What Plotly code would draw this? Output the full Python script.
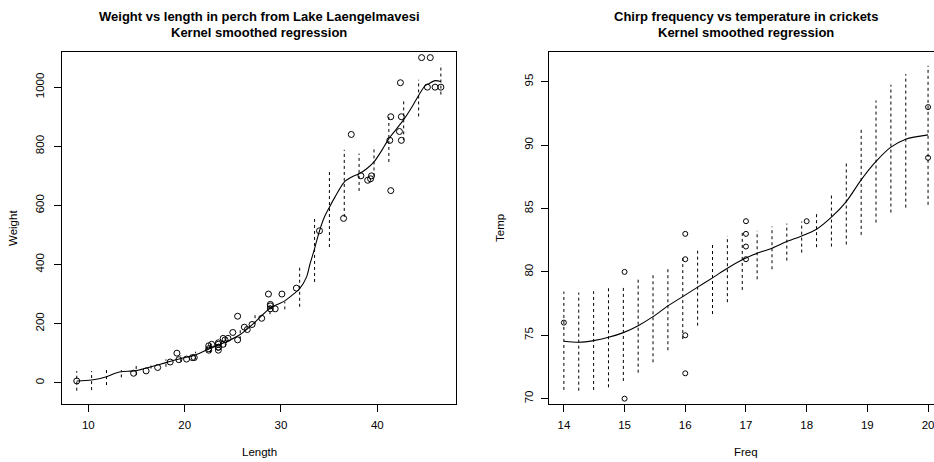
import plotly.graph_objects as go

W, H = 934, 462
FONT = 'Liberation Sans, Arial, sans-serif'

# ─── Perch data (Lake Laengelmavesi) ─────────────────────────────────────────
perch_length = [8.8, 14.7, 16.0, 17.2, 18.5, 19.2, 19.4, 20.2, 20.8, 21.0,
                22.5, 22.5, 22.5, 22.8, 23.5, 23.5, 23.5, 23.5, 23.5, 24.0,
                24.0, 24.2, 24.5, 25.0, 25.5, 25.5, 26.2, 26.5, 27.0, 28.0,
                28.7, 28.9, 28.9, 28.9, 29.4, 30.1, 31.6, 34.0, 36.5, 37.3,
                39.0, 38.3, 39.4, 39.3, 41.4, 41.4, 41.3, 42.3, 42.5, 42.4,
                42.5, 44.6, 45.2, 45.5, 46.0, 46.6]
perch_weight = [5.9, 32, 40, 51.5, 70, 100, 78, 80, 85, 85,
                110, 115, 125, 130, 120, 120, 130, 135, 110, 130,
                150, 145, 150, 170, 225, 145, 188, 180, 197, 218,
                300, 260, 265, 250, 250, 300, 320, 514, 556, 840,
                685, 700, 700, 690, 900, 650, 820, 850, 900, 1015,
                820, 1100, 1000, 1100, 1000, 1000]

perch_fit_x = [8.8, 10.34, 11.89, 12.8, 13.43, 14.97, 16.51, 18.06, 19.6, 21.14,
               22.69, 24.23, 25.77, 27.31, 28.86, 30.4, 31.3, 31.94, 32.66, 33.0,
               33.49, 34.0, 34.5, 35.03, 35.6, 36.57, 37.35, 38.11, 38.9, 39.66,
               40.47, 41.2, 42.0, 42.74, 43.58, 44.29, 44.97, 45.3, 46.0, 46.6]
perch_fit_y = [6, 9, 20, 32, 37, 41, 54, 68, 82, 94,
               117, 137, 163, 205, 252, 277, 300, 318, 358, 400,
               454, 514, 560, 594, 628, 679, 696, 707, 724, 747,
               786, 826, 859, 890, 932, 972, 1005, 1011, 1022, 1019]

perch_band_x = [8.8, 10.34, 11.89, 13.43, 14.97, 16.51, 18.06, 19.6, 21.14, 22.69,
                24.23, 25.77, 27.31, 28.86, 30.4, 31.94, 33.49, 35.03, 36.57, 38.11,
                39.66, 41.2, 42.74, 44.29, 46.6]
perch_band_lo = [-27, -25, -8, 18, 26, 48, 54, 71, 79, 101,
                 122, 147, 198, 232, 248, 257, 341, 459, 561, 649,
                 698, 747, 820, 901, 975]
perch_band_hi = [39.5, 39.5, 43, 43, 63, 63, 79, 93, 105, 133,
                 150, 180, 236, 262, 274, 394, 561, 721, 788, 775,
                 800, 904, 955, 1025, 1077]

# ─── Cricket data ────────────────────────────────────────────────────────────
cricket_freq = [14, 15, 15, 16, 16, 16, 16, 17, 17, 17, 17, 18, 20, 20]
cricket_temp = [76, 80, 70, 83, 81, 75, 72, 84, 83, 82, 81, 84, 93, 89]

cricket_grid = [14.0, 14.245, 14.49, 14.735, 14.98, 15.224, 15.469, 15.714, 15.959,
                16.204, 16.449, 16.694, 16.939, 17.184, 17.429, 17.673, 17.918,
                18.163, 18.408, 18.653, 18.898, 19.143, 19.388, 19.633, 20.0]
cricket_fit = [74.53, 74.45, 74.58, 74.84, 75.21, 75.76, 76.47, 77.32, 78.05,
               78.8, 79.53, 80.29, 80.95, 81.48, 81.87, 82.39, 82.84,
               83.37, 84.32, 85.55, 87.26, 88.71, 89.84, 90.47, 90.81]
cricket_lo = [70.69, 70.63, 70.69, 70.9, 71.4, 72.05, 72.87, 73.82, 74.7,
              75.76, 76.68, 77.61, 78.58, 79.42, 80.21, 80.89, 81.52,
              81.95, 82.0, 82.16, 82.92, 83.89, 84.68, 85.07, 85.29]
cricket_hi = [78.45, 78.37, 78.47, 78.71, 78.79, 79.45, 79.82, 80.32, 81.1,
              81.8, 82.31, 82.84, 83.15, 83.24, 83.58, 83.81, 83.97,
              84.71, 86.21, 88.68, 91.21, 93.52, 94.76, 95.6, 96.26]


def band_segments(xs, lo, hi):
    bx, by = [], []
    for x, a, b in zip(xs, lo, hi):
        bx += [x, x, None]
        by += [a, b, None]
    return bx, by


def px(x):
    return x / W


def py(y):
    return 1 - y / H


fig = go.Figure()

# left panel
bx, by = band_segments(perch_band_x, perch_band_lo, perch_band_hi)
fig.add_trace(go.Scatter(x=bx, y=by, mode='lines', xaxis='x', yaxis='y',
                         line=dict(color='black', width=1, dash='3px,3px'),
                         hoverinfo='skip'))
fig.add_trace(go.Scatter(x=perch_fit_x, y=perch_fit_y, mode='lines', xaxis='x', yaxis='y',
                         line=dict(color='black', width=1.1, shape='spline', smoothing=0.8)))
fig.add_trace(go.Scatter(x=perch_length, y=perch_weight, mode='markers', xaxis='x', yaxis='y',
                         marker=dict(symbol='circle-open', size=6, color='black',
                                     line=dict(width=1, color='black'))))

# right panel
bx, by = band_segments(cricket_grid, cricket_lo, cricket_hi)
fig.add_trace(go.Scatter(x=bx, y=by, mode='lines', xaxis='x2', yaxis='y2',
                         line=dict(color='black', width=1, dash='3px,3px'),
                         hoverinfo='skip'))
fig.add_trace(go.Scatter(x=cricket_grid, y=cricket_fit, mode='lines', xaxis='x2', yaxis='y2',
                         line=dict(color='black', width=1.1, shape='spline', smoothing=0.8)))
fig.add_trace(go.Scatter(x=cricket_freq, y=cricket_temp, mode='markers', xaxis='x2', yaxis='y2',
                         marker=dict(symbol='circle-open', size=5, color='black',
                                     line=dict(width=1, color='black'))))

ydom = [py(404), py(51.7)]
axis_common = dict(showgrid=False, zeroline=False, showline=True, linecolor='black',
                   linewidth=1, ticks='outside', ticklen=7, tickcolor='black',
                   ticklabeloverflow='allow',
                   tickfont=dict(family=FONT, size=11.5, color='black'))

fig.update_layout(
    width=W, height=H,
    margin=dict(l=0, r=0, t=0, b=0),
    paper_bgcolor='white', plot_bgcolor='white',
    showlegend=False,
    font=dict(family=FONT, color='black'),
    xaxis=dict(domain=[px(62.3), px(455.7)], range=[7.30, 48.14],
               tickvals=[10, 20, 30, 40], mirror=True, anchor='y',
               ticklabelstandoff=3, **axis_common),
    yaxis=dict(domain=ydom, range=[-72, 1120], tickvals=[0, 200, 400, 600, 800, 1000],
               tickangle=-90, mirror=True, anchor='x', ticklabelstandoff=6, **axis_common),
    xaxis2=dict(domain=[px(549.3), 1.0], range=[13.76, 20.098],
                tickvals=[14, 15, 16, 17, 18, 19, 20], mirror=True, anchor='y2',
                ticklabelstandoff=3, **axis_common),
    yaxis2=dict(domain=ydom, range=[69.58, 97.37], tickvals=[70, 75, 80, 85, 90, 95],
                tickangle=-90, mirror=False, anchor='x2', ticklabelstandoff=4, **axis_common),
)

titles = [
    (259, 'Weight vs length in perch from Lake Laengelmavesi'),
    (746, 'Chirp frequency vs temperature in crickets'),
]
for cx, t in titles:
    fig.add_annotation(x=px(cx), y=py(16.7), xref='paper', yref='paper', text=f'<b>{t}</b>',
                       xanchor='center', yanchor='middle',
                       showarrow=False, font=dict(size=13, family=FONT))
    fig.add_annotation(x=px(cx), y=py(33), xref='paper', yref='paper',
                       text='<b>Kernel smoothed regression</b>',
                       xanchor='center', yanchor='middle',
                       showarrow=False, font=dict(size=13, family=FONT))

labels = [(259, 452, 'Length', 0), (746, 452, 'Freq', 0),
          (13, 228, 'Weight', -90), (500, 228, 'Temp', -90)]
for lx, ly, t, ang in labels:
    fig.add_annotation(x=px(lx), y=py(ly), xref='paper', yref='paper', text=t,
                       textangle=ang, xanchor='center', yanchor='middle',
                       showarrow=False, font=dict(size=11.5, family=FONT))

fig.write_html("out.html", config={'displayModeBar': False},
               post_script="document.body.style.margin='0';")
